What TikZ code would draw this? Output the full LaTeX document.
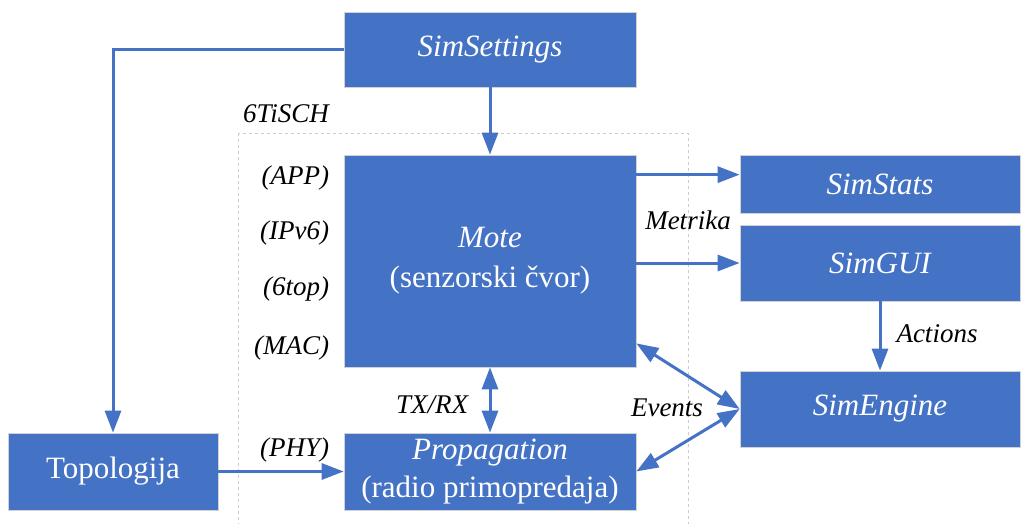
\documentclass[tikz,border=0pt]{standalone}
\usepackage{fontspec}
\setmainfont{Liberation Serif}
\usetikzlibrary{arrows.meta,positioning}
\definecolor{boxblue}{HTML}{4472C4}

\begin{document}
\begin{tikzpicture}[x=1pt, y=-1pt, >={Triangle[length=22pt,width=16pt]}, line width=3pt]
    \tikzset{
      blk/.style={fill=boxblue, draw=gray!35, line width=.7pt, text=white, inner sep=0pt,
        align=center, font=\fontsize{31}{40}\selectfont},
      lbl/.style={font=\fontsize{27}{30}\selectfont\itshape},
      conn/.style={draw=boxblue, line width=3pt}
    }
    \useasboundingbox (0,0) rectangle (1021,524);
    % 6TiSCH frame
    \draw[gray!40, dashed, line width=.8pt] (238,133) rectangle (688,530);
    \node[lbl] (tisch) at (286,114) {6TiSCH};
    % blocks
    \node[blk, minimum width=292, minimum height=75] (settings) at (490,49.5) {\itshape SimSettings};
    \node[blk, minimum width=292, minimum height=212] (mote) at (490,261) {\textit{Mote}\\(senzorski čvor)};
    \node[blk, minimum width=292, minimum height=77, font=\fontsize{31}{38}\selectfont] (prop) at (490,471.5) {\textit{Propagation}\\(radio primopredaja)};
    \node[blk, minimum width=210, minimum height=77] (topo) at (113,471.5) {Topologija};
    \node[blk, minimum width=280, minimum height=58] (stats) at (880,184) {\itshape SimStats};
    \node[blk, minimum width=280, minimum height=76] (gui) at (880,263) {\itshape SimGUI};
    \node[blk, minimum width=280, minimum height=76] (engine) at (880,409) {\itshape SimEngine};
    % layers
    \foreach \y/\name/\layer in {178/app/APP,233/ipv/IPv6,289/sixtop/6top,348/mac/MAC,450/phy/PHY}
      \node[lbl, anchor=east] (\name) at (334,\y) {(\layer)};
    % connectors
    \draw[conn, ->] (settings.south) -- (mote.north);
    \draw[conn, ->] (settings.west) -| (topo.north);
    \draw[conn, ->] (topo.east) -- (prop.west);
    \draw[conn, <->] (mote.south) -- (prop.north);
    \draw[conn, ->] ([yshift=-20pt]mote.north east) -- ([yshift=-20pt]mote.north east -| stats.west);
    \draw[conn, ->] (mote.east |- gui.west) -- (gui.west);
    \draw[conn, ->] (gui.south) -- (engine.north);
    \draw[conn, <->] ([yshift=24pt]mote.south east) -- (engine.west);
    \draw[conn, <->] (prop.east) -- (engine.west);
    % edge labels
    \node[lbl] (txrx) at (432,405) {TX/RX};
    \node[lbl] (metrika) at (688,220) {Metrika};
    \node[lbl] (actions) at (937,334) {Actions};
    \node[lbl] (events) at (667,408) {Events};
\end{tikzpicture}
\end{document}
